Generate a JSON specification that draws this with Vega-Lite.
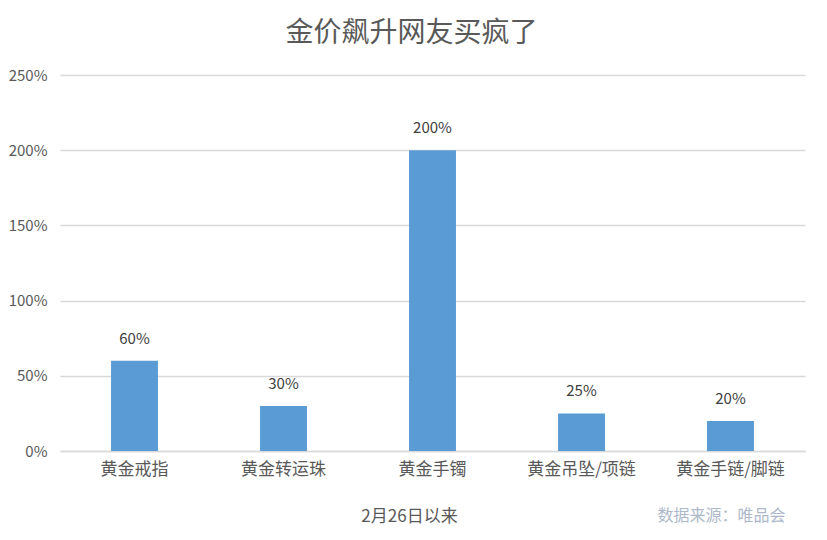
{
  "$schema": "https://vega.github.io/schema/vega-lite/v6.json",
  "autosize": {"type": "none"},
  "width": 745,
  "height": 376,
  "padding": {"left": 60, "top": 75, "right": 22, "bottom": 89},
  "background": "white",
  "title": {
    "text": "金价飙升网友买疯了",
    "fontSize": 28,
    "fontWeight": "normal",
    "color": "#595959",
    "anchor": "middle",
    "dx": -21,
    "offset": 20
  },
  "config": {
    "font": "Noto Sans CJK SC",
    "view": {"stroke": null}
  },
  "data": {
    "values": [
      {"category": "黄金戒指", "growth": 0.6},
      {"category": "黄金转运珠", "growth": 0.3},
      {"category": "黄金手镯", "growth": 2.0},
      {"category": "黄金吊坠/项链", "growth": 0.25},
      {"category": "黄金手链/脚链", "growth": 0.2}
    ]
  },
  "layer": [
    {
      "mark": {"type": "bar", "color": "#5b9bd5"},
      "encoding": {
        "x": {
          "field": "category",
          "type": "nominal",
          "sort": null,
          "scale": {"paddingInner": 0.685, "paddingOuter": 0.3425},
          "axis": {
            "title": "2月26日以来",
            "titleFontSize": 17,
            "titleFontWeight": "normal",
            "titleColor": "#595959",
            "titleX": 349,
            "titleY": 65,
            "titleBaseline": "middle",
            "labelAngle": 0,
            "labelFontSize": 17,
            "labelColor": "#595959",
            "labelPadding": 10,
            "ticks": false,
            "domainColor": "#d9d9d9",
            "domainWidth": 1.5
          }
        },
        "y": {
          "field": "growth",
          "type": "quantitative",
          "scale": {"domain": [0, 2.5], "nice": false},
          "axis": {
            "title": null,
            "format": "~%",
            "values": [0, 0.5, 1, 1.5, 2, 2.5],
            "labelFontSize": 15,
            "labelColor": "#595959",
            "labelPadding": 13,
            "ticks": false,
            "domain": false,
            "gridColor": "#d9d9d9",
            "gridWidth": 1.5
          }
        }
      }
    },
    {
      "mark": {"type": "text", "baseline": "bottom", "dy": -14, "fontSize": 15, "color": "#404040"},
      "encoding": {
        "x": {"field": "category", "type": "nominal", "sort": null},
        "y": {"field": "growth", "type": "quantitative"},
        "text": {"field": "growth", "type": "quantitative", "format": "~%"}
      }
    },
    {
      "data": {"values": [{"category": "黄金手链/脚链", "note": "数据来源：唯品会"}]},
      "mark": {"type": "text", "baseline": "middle", "dy": 65, "dx": -9, "fontSize": 16, "color": "#adb9ca"},
      "encoding": {
        "x": {"field": "category", "type": "nominal", "sort": null},
        "y": {"datum": 0},
        "text": {"field": "note"}
      }
    }
  ]
}
